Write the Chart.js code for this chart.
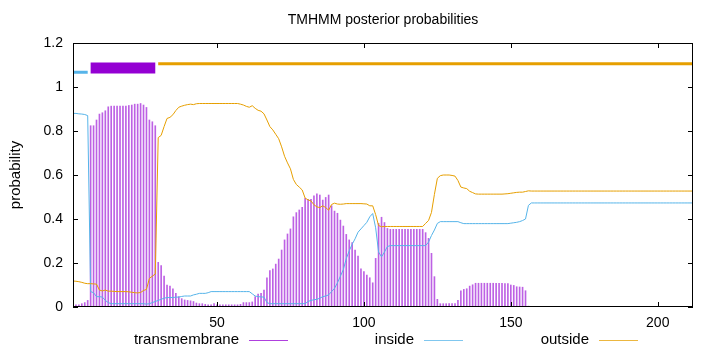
<!DOCTYPE html>
<html>
<head>
<meta charset="utf-8">
<script src="https://cdn.jsdelivr.net/npm/chart.js@4"></script>
<style>
  html, body { margin: 0; padding: 0; background: #ffffff; }
  #wrap { width: 720px; height: 352px; }
</style>
</head>
<body>
<div id="wrap"><canvas id="c" width="720" height="352"></canvas></div>
<script>
// ---------- DATA ----------
const chartTitle = "TMHMM posterior probabilities";
const yAxisTitle = "probability";
const seriesNames = ["transmembrane", "inside", "outside"];
const xTicks = [50, 100, 150, 200];
const yTicks = [0, 0.2, 0.4, 0.6, 0.8, 1, 1.2];
const seqLength = 212;

const transmembrane = [
  0.005,0.01,0.01,0.015,0.02,0.03,0.824,0.824,0.85,0.877,
  0.883,0.892,0.91,0.913,0.913,0.913,0.913,0.913,0.913,0.916,
  0.918,0.922,0.922,0.925,0.918,0.907,0.85,0.842,0.824,0.203,
  0.188,0.141,0.1,0.095,0.083,0.062,0.047,0.038,0.032,0.03,
  0.028,0.025,0.018,0.015,0.015,0.012,0.01,0.01,0.015,0.01,
  0.01,0.01,0.01,0.01,0.01,0.01,0.01,0.012,0.02,0.02,
  0.02,0.023,0.047,0.059,0.062,0.077,0.133,0.165,0.173,0.195,
  0.218,0.259,0.305,0.332,0.355,0.41,0.429,0.441,0.453,0.494,
  0.489,0.489,0.505,0.514,0.509,0.486,0.498,0.509,0.46,0.436,
  0.426,0.395,0.368,0.33,0.305,0.293,0.259,0.232,0.173,0.161,
  0.145,0.133,0.11,0.221,0.38,0.408,0.384,0.357,0.353,0.353,
  0.353,0.353,0.353,0.353,0.353,0.353,0.353,0.353,0.353,0.353,
  0.338,0.312,0.244,0.138,0.035,0.015,0.015,0.015,0.015,0.015,
  0.015,0.03,0.074,0.08,0.083,0.095,0.101,0.108,0.108,0.108,
  0.108,0.108,0.108,0.108,0.108,0.108,0.108,0.107,0.106,0.1,
  0.098,0.092,0.091,0.09,0.074,0.004,0.003,0.002,0.002,0.001,
  0,0,0,0,0,0,0,0,0,0,
  0,0,0,0,0,0,0,0,0,0,
  0,0,0,0,0,0,0,0,0,0,
  0,0,0,0,0,0,0,0,0,0,
  0,0,0,0,0,0,0,0,0,0,
  0,0
];

const inside = [
  0.88,0.88,0.878,0.877,0.875,0.87,0.07,0.065,0.047,0.047,
  0.045,0.03,0.02,0.015,0.015,0.015,0.015,0.015,0.015,0.015,
  0.015,0.015,0.015,0.015,0.015,0.013,0.015,0.02,0.025,0.03,
  0.035,0.04,0.043,0.043,0.043,0.045,0.045,0.048,0.05,0.05,
  0.05,0.055,0.058,0.062,0.062,0.062,0.065,0.07,0.07,0.07,
  0.07,0.07,0.07,0.07,0.07,0.07,0.07,0.07,0.07,0.07,
  0.07,0.06,0.05,0.047,0.046,0.045,0.02,0.015,0.015,0.015,
  0.015,0.015,0.015,0.015,0.015,0.015,0.015,0.015,0.015,0.015,
  0.025,0.03,0.033,0.035,0.04,0.047,0.05,0.055,0.07,0.085,
  0.11,0.14,0.17,0.22,0.255,0.285,0.31,0.34,0.355,0.37,
  0.385,0.41,0.425,0.36,0.25,0.228,0.25,0.275,0.279,0.279,
  0.279,0.279,0.279,0.279,0.279,0.279,0.279,0.279,0.279,0.279,
  0.279,0.295,0.325,0.35,0.38,0.388,0.388,0.388,0.388,0.388,
  0.388,0.388,0.383,0.379,0.379,0.379,0.379,0.379,0.379,0.379,
  0.379,0.379,0.379,0.379,0.379,0.379,0.379,0.379,0.379,0.381,
  0.383,0.385,0.388,0.393,0.4,0.462,0.473,0.473,0.473,0.473,
  0.473,0.473,0.473,0.473,0.473,0.473,0.473,0.473,0.473,0.473,
  0.473,0.473,0.473,0.473,0.473,0.473,0.473,0.473,0.473,0.473,
  0.473,0.473,0.473,0.473,0.473,0.473,0.473,0.473,0.473,0.473,
  0.473,0.473,0.473,0.473,0.473,0.473,0.473,0.473,0.473,0.473,
  0.473,0.473,0.473,0.473,0.473,0.473,0.473,0.473,0.473,0.473,
  0.473,0.473
];

const outside = [
  0.118,0.117,0.115,0.112,0.108,0.106,0.106,0.105,0.104,0.077,
  0.073,0.077,0.072,0.072,0.071,0.07,0.07,0.07,0.07,0.069,
  0.067,0.065,0.064,0.066,0.075,0.08,0.13,0.14,0.15,0.77,
  0.78,0.82,0.857,0.862,0.874,0.893,0.908,0.913,0.917,0.92,
  0.922,0.92,0.924,0.925,0.925,0.925,0.925,0.925,0.925,0.925,
  0.925,0.925,0.925,0.925,0.925,0.925,0.925,0.922,0.918,0.912,
  0.908,0.915,0.903,0.894,0.89,0.878,0.85,0.82,0.805,0.785,
  0.765,0.728,0.685,0.655,0.628,0.58,0.557,0.545,0.532,0.495,
  0.487,0.482,0.465,0.455,0.452,0.46,0.452,0.44,0.466,0.472,
  0.468,0.467,0.468,0.47,0.47,0.47,0.47,0.47,0.47,0.469,
  0.468,0.46,0.46,0.42,0.37,0.365,0.366,0.366,0.366,0.366,
  0.366,0.366,0.366,0.366,0.366,0.366,0.366,0.366,0.366,0.366,
  0.38,0.393,0.43,0.512,0.585,0.597,0.6,0.6,0.6,0.598,
  0.595,0.575,0.545,0.541,0.538,0.526,0.52,0.514,0.513,0.513,
  0.513,0.513,0.513,0.513,0.513,0.513,0.513,0.514,0.515,0.517,
  0.519,0.521,0.522,0.522,0.525,0.528,0.527,0.527,0.527,0.527,
  0.527,0.527,0.527,0.527,0.527,0.527,0.527,0.527,0.527,0.527,
  0.527,0.527,0.527,0.527,0.527,0.527,0.527,0.527,0.527,0.527,
  0.527,0.527,0.527,0.527,0.527,0.527,0.527,0.527,0.527,0.527,
  0.527,0.527,0.527,0.527,0.527,0.527,0.527,0.527,0.527,0.527,
  0.527,0.527,0.527,0.527,0.527,0.527,0.527,0.527,0.527,0.527,
  0.527,0.527
];

// predicted topology: [start, end] residue ranges and plotting level
const insideSegment = [1, 6];
const helixSegment = [7, 29];
const outsideSegment = [30, 212];
const topologyLevels = [1.067, 1.086, 1.106];

// ---------- COLOURS ----------
const cTM = "#9400d3";
const cTMbar = "rgba(148,0,211,0.62)";
const cIn = "#56b4e9";
const cOut = "#e69f00";
const FONT = "'Liberation Sans', Arial, sans-serif";

const residues = transmembrane.map((v, i) => i + 1);
const pts = arr => arr.map((v, i) => ({ x: residues[i], y: v }));

const chromePlugin = {
  id: 'chrome',
  afterDraw(chart) {
    const { ctx, chartArea: a, scales } = chart;
    const xs = scales.x, ys = scales.y;
    ctx.save();
    // border
    ctx.strokeStyle = '#000';
    ctx.lineWidth = 1;
    ctx.strokeRect(Math.round(a.left) + 0.5, Math.round(a.top) + 0.5,
                   Math.round(a.right - a.left) - 1, Math.round(a.bottom - a.top) - 1);
    // inward ticks
    ctx.beginPath();
    yTicks.forEach(v => {
      const y = Math.round(ys.getPixelForValue(v)) + 0.5;
      ctx.moveTo(a.left, y); ctx.lineTo(a.left + 5, y);
      ctx.moveTo(a.right, y); ctx.lineTo(a.right - 5, y);
    });
    xTicks.forEach(v => {
      const x = Math.round(xs.getPixelForValue(v)) + 0.5;
      ctx.moveTo(x, a.bottom); ctx.lineTo(x, a.bottom - 5);
      ctx.moveTo(x, a.top); ctx.lineTo(x, a.top + 5);
    });
    ctx.stroke();
    // title
    ctx.fillStyle = '#000';
    ctx.font = "14px " + FONT;
    ctx.textAlign = 'center';
    ctx.textBaseline = 'middle';
    ctx.fillText(chartTitle, (a.left + a.right) / 2, 20);
    // y title
    ctx.save();
    ctx.translate(16, (a.top + a.bottom) / 2);
    ctx.rotate(-Math.PI / 2);
    ctx.font = "15px " + FONT;
    ctx.fillText(yAxisTitle, 0, 0);
    ctx.restore();
    // legend
    ctx.font = "15px " + FONT;
    const cols = [cTM, cIn, cOut];
    const textRight = [239, 414, 589];
    ctx.textAlign = 'right';
    seriesNames.forEach((n, i) => {
      ctx.fillStyle = '#000';
      ctx.fillText(n, textRight[i], 340);
      ctx.strokeStyle = cols[i];
      ctx.globalAlpha = 0.75;
      ctx.beginPath();
      ctx.moveTo(textRight[i] + 10, 340.5);
      ctx.lineTo(textRight[i] + 49, 340.5);
      ctx.stroke();
      ctx.globalAlpha = 1;
    });
    ctx.restore();
  }
};

new Chart(document.getElementById('c'), {
  type: 'bar',
  data: {
    datasets: [
      { type: 'line', label: 'inside-top', data: [{x: insideSegment[0], y: topologyLevels[0]}, {x: insideSegment[1], y: topologyLevels[0]}],
        borderColor: cIn, borderWidth: 3, pointRadius: 0, borderCapStyle: 'butt', order: 0 },
      { type: 'line', label: 'helix-top', data: [{x: helixSegment[0], y: topologyLevels[1]}, {x: helixSegment[1], y: topologyLevels[1]}],
        borderColor: cTM, borderWidth: 11, pointRadius: 0, borderCapStyle: 'butt', order: 0 },
      { type: 'line', label: 'outside-top', data: [{x: outsideSegment[0], y: topologyLevels[2]}, {x: outsideSegment[1], y: topologyLevels[2]}],
        borderColor: cOut, borderWidth: 3, pointRadius: 0, borderCapStyle: 'butt', order: 0 },
      { type: 'line', label: seriesNames[2], data: pts(outside), borderColor: cOut, borderWidth: 1,
        pointRadius: 0, tension: 0, order: 1 },
      { type: 'line', label: seriesNames[1], data: pts(inside), borderColor: cIn, borderWidth: 1,
        pointRadius: 0, tension: 0, order: 2 },
      { type: 'bar', label: seriesNames[0], data: pts(transmembrane), backgroundColor: cTMbar,
        barThickness: 1, borderWidth: 0, order: 3 }
    ]
  },
  options: {
    responsive: false,
    animation: false,
    events: [],
    layout: { padding: { top: 43, right: 27, left: 0, bottom: 0 } },
    plugins: { legend: { display: false }, tooltip: { enabled: false }, title: { display: false } },
    scales: {
      x: {
        type: 'linear', min: 1, max: seqLength, offset: false,
        grid: { display: false, drawTicks: false },
        border: { display: false },
        afterBuildTicks: s => { s.ticks = xTicks.map(v => ({ value: v })); },
        afterFit: s => { s.height = 45; },
        ticks: { color: '#000', font: { family: FONT, size: 14 }, padding: 8, maxRotation: 0 }
      },
      y: {
        min: 0, max: 1.2,
        grid: { display: false, drawTicks: false },
        border: { display: false },
        afterBuildTicks: s => { s.ticks = yTicks.map(v => ({ value: v })); },
        afterFit: s => { s.width = 73; },
        ticks: { color: '#000', font: { family: FONT, size: 14 }, padding: 10,
                 callback: v => String(Math.round(v * 10) / 10) }
      }
    }
  },
  plugins: [chromePlugin]
});
</script>
</body>
</html>
